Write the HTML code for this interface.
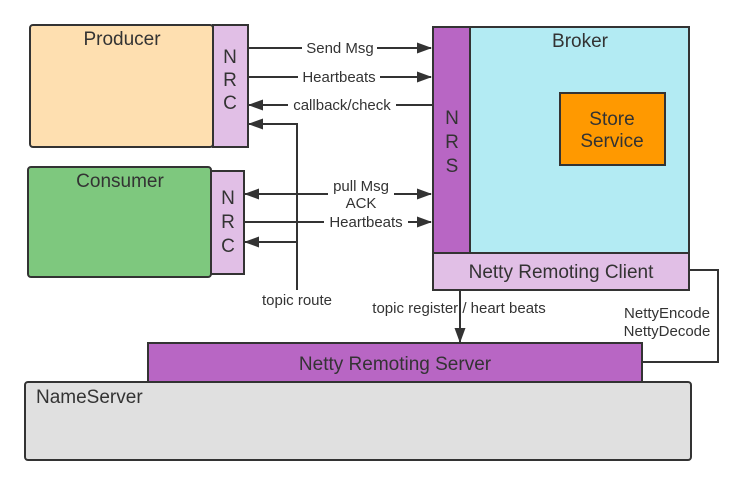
<!DOCTYPE html>
<html><head><meta charset="utf-8"><style>
html,body{margin:0;padding:0;background:#fff;width:748px;height:485px;overflow:hidden}
svg text{font-family:"Liberation Sans",sans-serif;fill:#333}
</style></head><body>
<svg width="748" height="485" viewBox="0 0 748 485" xmlns="http://www.w3.org/2000/svg">
<defs><marker id="a" markerWidth="15" markerHeight="11" refX="14" refY="5.5" orient="auto" markerUnits="userSpaceOnUse"><path d="M0,0L15,5.5L0,11z" fill="#333"/></marker></defs>
<g stroke="#333" stroke-width="2">
<rect x="30" y="25" width="183" height="122" rx="3" fill="#fedfb0"/>
<rect x="213" y="25" width="35" height="122" fill="#e1bfe6"/>
<rect x="28" y="167" width="183" height="110" rx="3" fill="#7ec87e"/>
<rect x="211" y="171" width="33" height="103" fill="#e1bfe6"/>
<rect x="470" y="27" width="219" height="226" fill="#b3ebf3"/>
<rect x="433" y="27" width="37" height="226" fill="#b866c4"/>
<rect x="433" y="253" width="256" height="37" fill="#e1bfe6"/>
<rect x="560" y="93" width="105" height="72" fill="#ff9900"/>
<rect x="25" y="382" width="666" height="78" rx="3" fill="#e0e0e0"/>
<rect x="148" y="343" width="494" height="39" fill="#b866c4"/>
</g>
<g stroke="#333" stroke-width="2" fill="none">
<path d="M248 48H302M377 48H431" marker-end="url(#a)"/>
<path d="M248 77H298M380 77H431" marker-end="url(#a)"/>
<path d="M433 105H396M288 105H249" marker-end="url(#a)"/>
<path d="M297 290V124H249" marker-end="url(#a)"/>
<path d="M297 242H245" marker-end="url(#a)"/>
<path d="M328 194H245" marker-end="url(#a)"/>
<path d="M394 194H431" marker-end="url(#a)"/>
<path d="M244 222H324M408 222H431" marker-end="url(#a)"/>
<path d="M460 290V342" marker-end="url(#a)"/>
<path d="M689 270H718V362H642"/>
</g>
<g font-size="15" text-anchor="middle">
<text x="340" y="53">Send Msg</text>
<text x="339" y="82">Heartbeats</text>
<text x="342" y="110">callback/check</text>
<text x="361" y="191">pull Msg</text>
<text x="361" y="208">ACK</text>
<text x="366" y="227">Heartbeats</text>
<text x="297" y="305">topic route</text>
<text x="459" y="313">topic register / heart beats</text>
<text x="667" y="318">NettyEncode</text>
<text x="667" y="336">NettyDecode</text>
</g>
<g font-size="19" text-anchor="middle">
<text x="122" y="45">Producer</text>
<text x="120" y="187">Consumer</text>
<text x="580" y="47">Broker</text>
<text x="561" y="278">Netty Remoting Client</text>
<text x="395" y="370">Netty Remoting Server</text>
<text x="230" y="63">N</text><text x="230" y="86">R</text><text x="230" y="109">C</text>
<text x="228" y="204">N</text><text x="228" y="228">R</text><text x="228" y="252">C</text>
<text x="452" y="124">N</text><text x="452" y="148">R</text><text x="452" y="172">S</text>
<text x="612" y="125">Store</text><text x="612" y="147">Service</text>
</g>
<text x="36" y="403" font-size="19">NameServer</text>
</svg>
</body></html>
